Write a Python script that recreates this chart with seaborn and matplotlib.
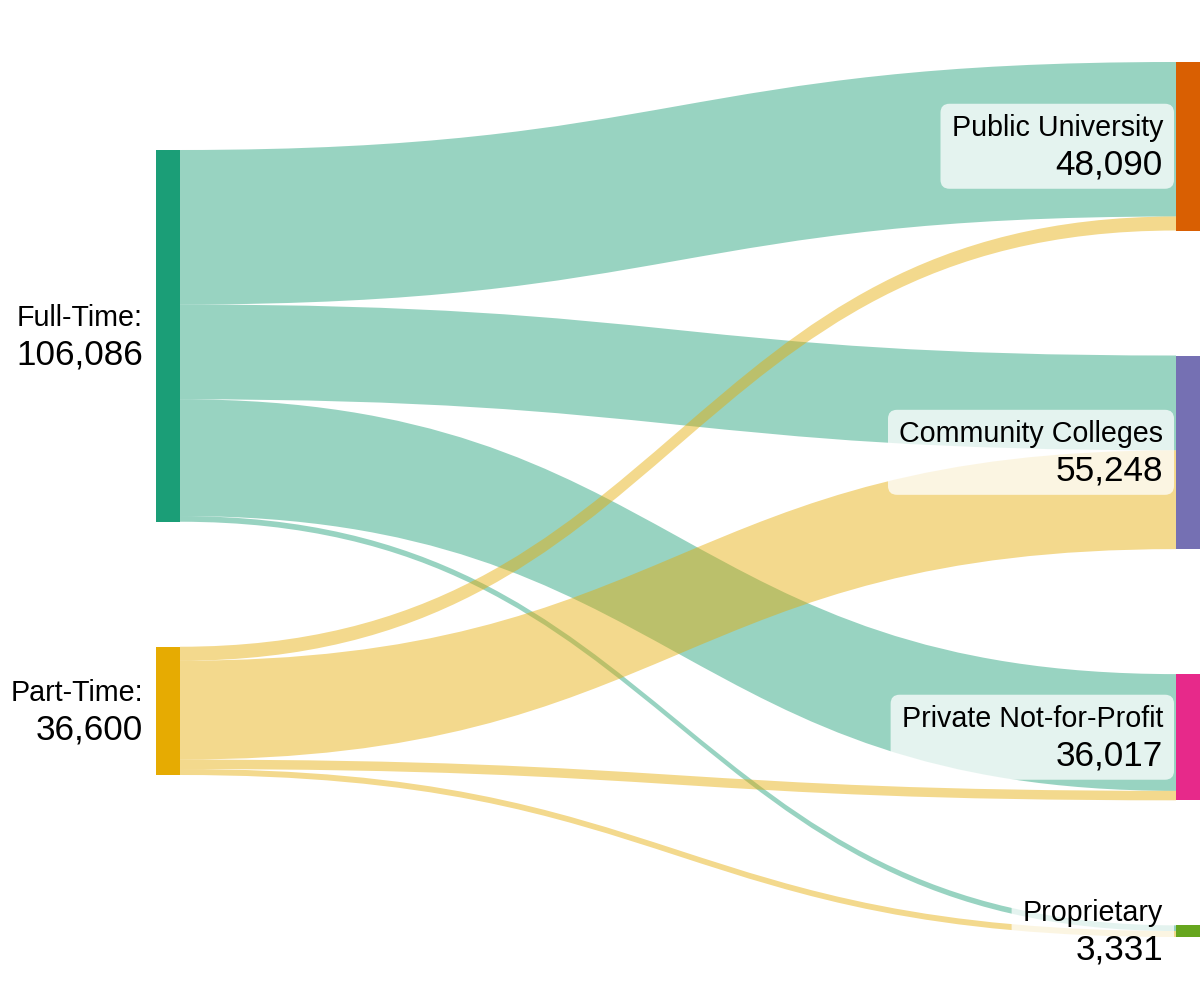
import matplotlib
matplotlib.use("Agg")
import matplotlib.pyplot as plt
from matplotlib.path import Path
from matplotlib.patches import PathPatch, Rectangle, FancyBboxPatch
import seaborn as sns

# data
origin_labels = ["Full-Time:", "Part-Time:"]
dest_labels = ["Public University", "Community Colleges", "Private Not-for-Profit", "Proprietary"]
full_time_flows = [44090, 27048, 33317, 1631]
part_time_flows = [4000, 28200, 2700, 1700]

flows = [full_time_flows, part_time_flows]
origin_totals = [sum(f) for f in flows]
dest_totals = [a + b for a, b in zip(full_time_flows, part_time_flows)]

sns.set_theme(style="white")
plt.rcParams['font.family'] = ['Liberation Sans', 'DejaVu Sans']
pal = sns.color_palette("Dark2", 8).as_hex()
origin_colors = [pal[0], pal[5]]
dest_colors = [pal[1], pal[2], pal[3], pal[4]]

# layout (pixel units)
W, H = 1200, 1000
node_w = 24
left_x, right_x = 156, W - node_w
pad = 125
scale = 500 / sum(origin_totals)
left_top, right_top = 150, 62

fig = plt.figure(figsize=(12, 10), dpi=100)
ax = fig.add_axes([0, 0, 1, 1])
ax.set_xlim(0, W)
ax.set_ylim(H, 0)
ax.axis("off")

def stack(totals, top):
    pos, y = [], top
    for t in totals:
        pos.append(y)
        y += t * scale + pad
    return pos

left_pos = stack(origin_totals, left_top)
right_pos = stack(dest_totals, right_top)

# links
dest_fill = list(right_pos)
x0, x1 = left_x + node_w, right_x
xm = (x0 + x1) / 2
for i, row in enumerate(flows):
    sy = left_pos[i]
    for j, v in enumerate(row):
        h = v * scale
        ty = dest_fill[j]
        verts = [(x0, sy), (xm, sy), (xm, ty), (x1, ty),
                 (x1, ty + h), (xm, ty + h), (xm, sy + h), (x0, sy + h), (x0, sy)]
        codes = [Path.MOVETO, Path.CURVE4, Path.CURVE4, Path.CURVE4,
                 Path.LINETO, Path.CURVE4, Path.CURVE4, Path.CURVE4, Path.CLOSEPOLY]
        ax.add_patch(PathPatch(Path(verts, codes), facecolor=origin_colors[i],
                               alpha=0.45, edgecolor="none", zorder=1))
        sy += h
        dest_fill[j] += h

# nodes
for i, t in enumerate(origin_totals):
    ax.add_patch(Rectangle((left_x, left_pos[i]), node_w, t * scale,
                           facecolor=origin_colors[i], edgecolor="none", zorder=2))
for j, t in enumerate(dest_totals):
    ax.add_patch(Rectangle((right_x, right_pos[j]), node_w, t * scale,
                           facecolor=dest_colors[j], edgecolor="none", zorder=2))

# labels
def label(xr, yc, name, value, box):
    t1 = ax.text(xr, yc - 10, name, ha="right", va="baseline", fontsize=20.6, color="black", zorder=4)
    t2 = ax.text(xr, yc + 28.5, f"{value:,}", ha="right", va="baseline", fontsize=25.3, color="black", zorder=4)
    if box:
        fig.canvas.draw()
        r = fig.canvas.get_renderer()
        inv = ax.transData.inverted()
        lefts = []
        for t in (t1, t2):
            bb = t.get_window_extent(r)
            lefts.append(inv.transform((bb.x0, bb.y0))[0])
        bx0 = min(lefts) - 11
        bx1 = right_x - 2
        ax.add_patch(FancyBboxPatch((bx0, yc - 42.5), bx1 - bx0, 85,
                                    boxstyle="round,pad=0,rounding_size=9",
                                    facecolor="white", alpha=0.75, edgecolor="none", zorder=3))

for i, t in enumerate(origin_totals):
    label(left_x - 13, left_pos[i] + t * scale / 2, origin_labels[i], t, False)
for j, t in enumerate(dest_totals):
    label(right_x - 13, right_pos[j] + t * scale / 2, dest_labels[j], t, True)

fig.savefig("out.png", dpi=100)
